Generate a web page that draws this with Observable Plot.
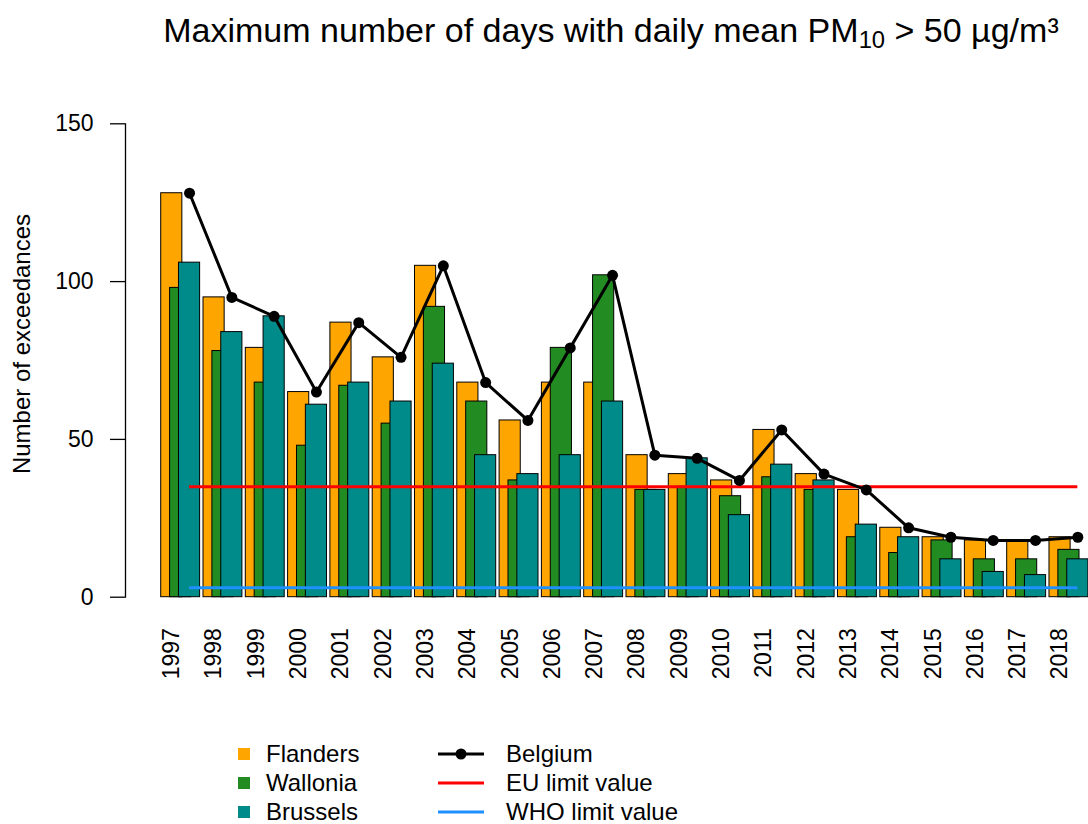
<!DOCTYPE html>
<html>
<head>
<meta charset="utf-8">
<script src="https://cdn.jsdelivr.net/npm/d3@7"></script>
<script src="https://cdn.jsdelivr.net/npm/@observablehq/plot@0.6"></script>
<style>
  html, body { margin: 0; padding: 0; background: #fff; }
  body { font-family: "Liberation Sans", Arial, sans-serif; color: #000; }
  #wrap { position: relative; width: 1088px; height: 824px; overflow: hidden; }
  #title { position: absolute; left: 134px; width: 954px; top: 13px; text-align: center;
           font-size: 34px; line-height: 34px; white-space: nowrap; z-index: 2; }
  #title .sub { font-size: 0.7em; position: relative; top: 6px; }
  #ylabel { position: absolute; left: 22px; top: 344px; font-size: 24px; line-height: 24px;
            white-space: nowrap; transform: translate(-50%, -50%) rotate(-90deg); z-index: 2; }
  #chart { position: absolute; left: 0; top: 100px; z-index: 1; }
  #legend { position: absolute; left: 0; top: 0; z-index: 2; }
  .leg { position: absolute; font-size: 24px; line-height: 24px; white-space: nowrap; }
  .sq { position: absolute; width: 12px; height: 12px; }
</style>
</head>
<body>
<div id="wrap">
  <div id="chart"></div>
  <div id="title">Maximum number of days with daily mean PM<span class="sub">10</span> &gt; 50 µg/m³</div>
  <div id="ylabel">Number of exceedances</div>
  <div id="legend"></div>
</div>
<script>
const years = [1997,1998,1999,2000,2001,2002,2003,2004,2005,2006,2007,2008,2009,2010,2011,2012,2013,2014,2015,2016,2017,2018];
const flanders = [128,95,79,65,87,76,105,68,56,68,68,45,39,37,53,39,34,22,19,18,18,19];
const wallonia = [98,78,68,48,67,55,92,62,37,79,102,34,35,32,38,34,19,14,18,12,12,15];
const brussels = [106,84,89,61,68,62,74,45,39,45,62,34,44,26,42,37,23,19,12,8,7,12];
const belgium  = [128,95,89,65,87,76,105,68,56,79,102,45,44,37,53,39,34,22,19,18,18,19];
const euLimit = [35];
const whoLimit = [3];
const yTicks = [0,50,100,150];

const seriesNames = ["Flanders","Wallonia","Brussels"];
const seriesColors = ["#FFA500","#228B22","#008B8B"];
const lineNames = ["Belgium","EU limit value","WHO limit value"];
const lineColors = ["#000000","#FF0000","#1E90FF"];

const barW = 0.5;
const offsets = [0, 0.21, 0.42];
const lineOff = offsets[2] + barW / 2;

const mk = (arr) => arr.map((v, i) => ({i, year: years[i], v}));
const seriesData = [flanders, wallonia, brussels].map(mk);
const belData = mk(belgium);
const first = 0, last = years.length - 1;

const font = '"Liberation Sans", Arial, sans-serif';

const barMarks = seriesData.map((data, s) =>
  Plot.rectY(data, {
    x1: d => d.i + offsets[s],
    x2: d => d.i + offsets[s] + barW,
    y: "v",
    fill: seriesColors[s],
    stroke: "#000",
    strokeWidth: 1
  })
);

const plot = Plot.plot({
  width: 1088,
  height: 620,
  marginLeft: 125,
  marginRight: 10,
  marginTop: 23.3,
  marginBottom: 123.3,
  style: { fontFamily: font, fontSize: "23px", color: "#000", background: "transparent", overflow: "visible" },
  x: { type: "linear", domain: [-0.844, 21.686] },
  y: { domain: [0, 150] },
  marks: [
    ...barMarks,
    Plot.ruleY(euLimit, { x1: first + lineOff, x2: last + lineOff, stroke: lineColors[1], strokeWidth: 3 }),
    Plot.ruleY(whoLimit, { x1: first + lineOff, x2: last + lineOff, stroke: lineColors[2], strokeWidth: 3 }),
    Plot.line(belData, { x: d => d.i + lineOff, y: "v", stroke: lineColors[0], strokeWidth: 3 }),
    Plot.dot(belData, { x: d => d.i + lineOff, y: "v", r: 5.5, fill: lineColors[0] }),
    Plot.frame({ anchor: "left", stroke: "#000", strokeWidth: 1.3 }),
    Plot.axisY({ ticks: yTicks, tickSize: 15, tickPadding: 17, label: null, fontSize: 23, strokeWidth: 1.3 }),
    Plot.axisX({
      ticks: years.map((_, i) => i + barW / 2),
      tickFormat: d => String(years[Math.round(d - barW / 2)]),
      tickRotate: -90, tickSize: 0, tickPadding: 31, label: null, fontSize: 23
    })
  ]
});
document.getElementById("chart").appendChild(plot);

// legend
const leg = document.getElementById("legend");
const rowY = [754, 783, 812];
seriesNames.forEach((name, k) => {
  const sq = document.createElement("div");
  sq.className = "sq";
  sq.style.left = "238px";
  sq.style.top = (rowY[k] - 6) + "px";
  sq.style.background = seriesColors[k];
  leg.appendChild(sq);
  const t = document.createElement("div");
  t.className = "leg";
  t.style.left = "266px";
  t.style.top = (rowY[k] - 12) + "px";
  t.textContent = name;
  leg.appendChild(t);
});
lineNames.forEach((name, k) => {
  const ns = "http://www.w3.org/2000/svg";
  const svg = document.createElementNS(ns, "svg");
  svg.setAttribute("width", "50");
  svg.setAttribute("height", "14");
  svg.style.position = "absolute";
  svg.style.left = "436px";
  svg.style.top = (rowY[k] - 7) + "px";
  const ln = document.createElementNS(ns, "line");
  ln.setAttribute("x1", "2"); ln.setAttribute("x2", "48");
  ln.setAttribute("y1", "7"); ln.setAttribute("y2", "7");
  ln.setAttribute("stroke", lineColors[k]); ln.setAttribute("stroke-width", "3");
  svg.appendChild(ln);
  if (k === 0) {
    const c = document.createElementNS(ns, "circle");
    c.setAttribute("cx", "25"); c.setAttribute("cy", "7"); c.setAttribute("r", "5.5");
    c.setAttribute("fill", lineColors[k]);
    svg.appendChild(c);
  }
  leg.appendChild(svg);
  const t = document.createElement("div");
  t.className = "leg";
  t.style.left = "506px";
  t.style.top = (rowY[k] - 12) + "px";
  t.textContent = name;
  leg.appendChild(t);
});
</script>
</body>
</html>
